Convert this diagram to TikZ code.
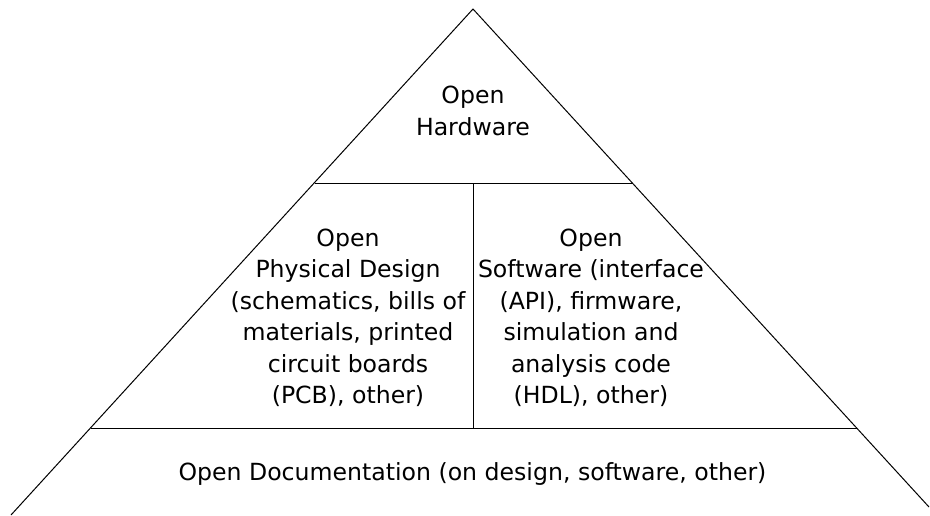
\documentclass[tikz,border=0pt]{standalone}
\usepackage{fontspec}
\setmainfont{DejaVu Sans}
\begin{document}
\begin{tikzpicture}[x=0.75pt,y=-0.75pt,
  edge/.style={draw=black,line width=0.75pt},
  label/.style={inner sep=0pt,align=center,font=\fontsize{17.7pt}{23.6pt}\selectfont}]
\useasboundingbox (0,0) rectangle (930,515);
\fill[white] (0,0) rectangle (930,515);
% corners
\coordinate (apex) at (473,9);
\coordinate (ml) at (314.5,183);
\coordinate (mr) at (632.5,183);
\coordinate (mc) at (473,183);
\coordinate (ll) at (91,428);
\coordinate (lr) at (857,428);
\coordinate (lc) at (473,428);
\coordinate (bl) at (11,515);
\coordinate (br) at (929,507);
% outline
\draw[edge] (bl) -- (apex) -- (br);
\draw[edge] (ml) -- (mr);
\draw[edge] (ll) -- (lr);
\draw[edge] (mc) -- (lc);
% texts
\node[label] (hw) at (473,111) {Open\\Hardware};
\node[label] (pd) at (348,317.6) {Open\\Physical Design\\(schematics, bills of\\materials, printed\\circuit boards\\(PCB), other)};
\node[label] (sw) at (591,317.6) {Open\\Software (interface\\(API), firmware,\\simulation and\\analysis code\\(HDL), other)};
\node[label] (doc) at (472.5,473.5) {Open Documentation (on design, software, other)};
\end{tikzpicture}
\end{document}
